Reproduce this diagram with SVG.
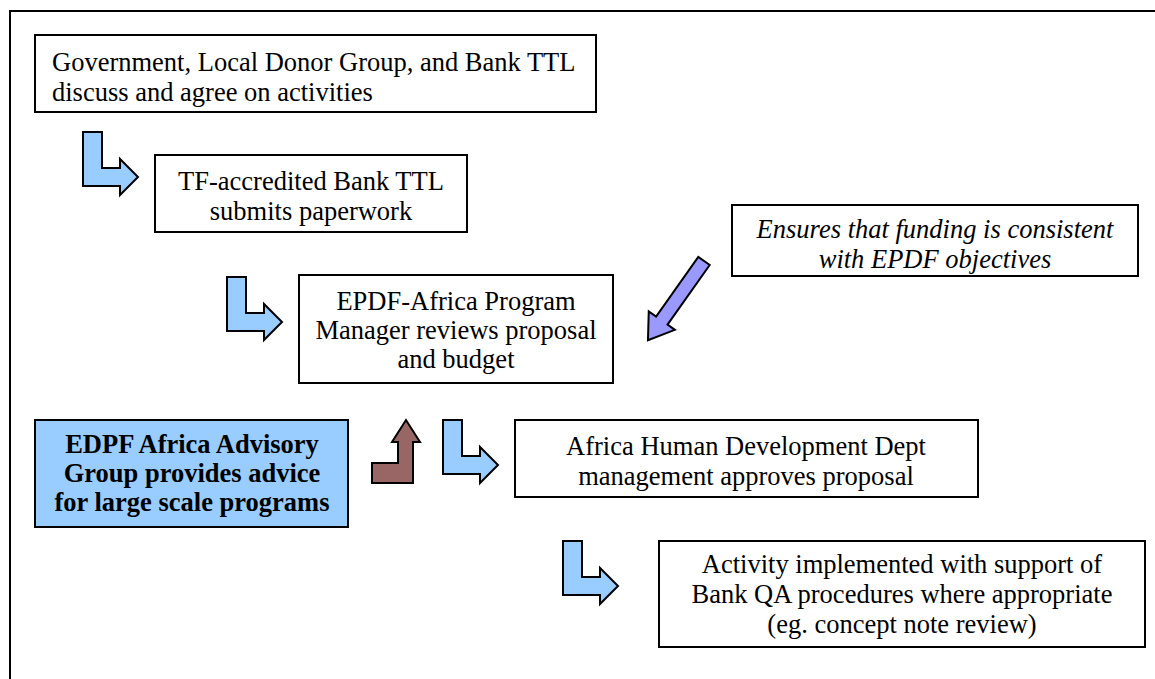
<svg xmlns="http://www.w3.org/2000/svg" width="1155" height="679" viewBox="0 0 1155 679">
  <style>
    .box { fill: #ffffff; stroke: #000000; stroke-width: 2; }
    .advisory { fill: #99ccff; stroke: #000000; stroke-width: 2; }
    .t { font-family: "Liberation Serif", "Times New Roman", serif; font-size: 26.5px; fill: #000000; }
    .c { text-anchor: middle; }
    .i { font-style: italic; }
    .b { font-weight: bold; }
    .step { fill: #99ccff; stroke: #000000; stroke-width: 2; stroke-linejoin: miter; }
    .feedback { fill: #996666; stroke: #000000; stroke-width: 2; }
    .check { fill: #9999ff; stroke: #000000; stroke-width: 2; }
  </style>
  <defs>
    <!-- bent "next step" arrow: stem down, then right -->
    <polygon id="stepArrow" points="0,0 19,0 19,36 37,36 37,27 55,45 37,63 37,54 0,54"/>
  </defs>

  <rect width="1155" height="679" fill="#ffffff"/>

  <!-- page frame (top and left edges) -->
  <path d="M10,679 V11 H1155" fill="none" stroke="#000000" stroke-width="2"/>

  <g id="node-agree">
    <rect class="box" x="35" y="35" width="561" height="77"/>
    <text class="t" x="52" y="71">Government, Local Donor Group, and Bank TTL</text>
    <text class="t" x="52" y="101">discuss and agree on activities</text>
  </g>

  <g id="node-submit">
    <rect class="box" x="155" y="155" width="312" height="77"/>
    <text class="t c" x="311" y="190">TF-accredited Bank TTL</text>
    <text class="t c" x="311" y="220">submits paperwork</text>
  </g>

  <g id="node-objectives">
    <rect class="box" x="732" y="205" width="406" height="71"/>
    <text class="t c i" x="935" y="238">Ensures that funding is consistent</text>
    <text class="t c i" x="935" y="268">with EPDF objectives</text>
  </g>

  <g id="node-review">
    <rect class="box" x="299" y="275" width="314" height="108"/>
    <text class="t c" x="456" y="310">EPDF-Africa Program</text>
    <text class="t c" x="456" y="339">Manager reviews proposal</text>
    <text class="t c" x="456" y="368">and budget</text>
  </g>

  <g id="node-advisory">
    <rect class="advisory" x="35" y="420" width="313" height="107"/>
    <text class="t c b" x="192" y="453">EDPF Africa Advisory</text>
    <text class="t c b" x="192" y="482">Group provides advice</text>
    <text class="t c b" x="192" y="511">for large scale programs</text>
  </g>

  <g id="node-approve">
    <rect class="box" x="515" y="420" width="463" height="77"/>
    <text class="t c" x="746" y="455">Africa Human Development Dept</text>
    <text class="t c" x="746" y="485">management approves proposal</text>
  </g>

  <g id="node-implement">
    <rect class="box" x="659" y="541" width="486" height="106"/>
    <text class="t c" x="902" y="573">Activity implemented with support of</text>
    <text class="t c" x="902" y="603">Bank QA procedures where appropriate</text>
    <text class="t c" x="902" y="633">(eg. concept note review)</text>
  </g>

  <g id="connectors">
    <use href="#stepArrow" class="step" x="83" y="132"/>
    <use href="#stepArrow" class="step" x="227" y="277"/>
    <use href="#stepArrow" class="step" x="443" y="420"/>
    <use href="#stepArrow" class="step" x="563" y="541"/>
    <!-- advisory input into the review step -->
    <polygon class="feedback" points="372,463 398,463 398,442 392,442 406,420 420,442 413,442 413,483 372,483"/>
    <!-- objectives check pointing at the review step -->
    <polygon class="check" transform="translate(704,261) rotate(125.3)" points="0,-7 73,-7 73,-16 97,0 73,16 73,7 0,7"/>
  </g>
</svg>
